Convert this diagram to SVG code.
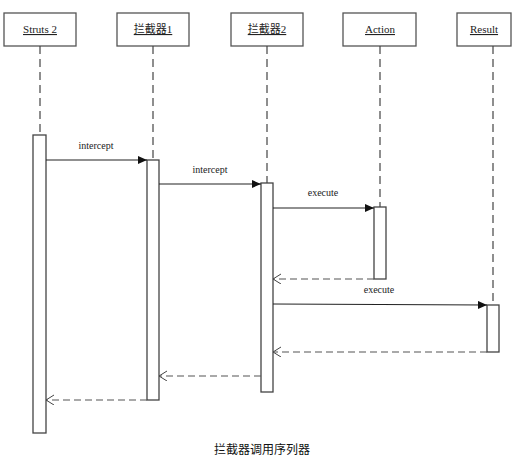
<svg xmlns="http://www.w3.org/2000/svg" width="513" height="461" viewBox="0 0 513 461">
<style>
.box{fill:#fff;stroke:#555;stroke-width:1.3}
.act{fill:#fff;stroke:#444;stroke-width:1.3}
.life{stroke:#444;stroke-width:1.2;stroke-dasharray:8 5;fill:none}
.lbl{font-family:"Liberation Serif","Noto Sans CJK SC",serif;font-size:11px;fill:#222;text-decoration:underline;text-anchor:middle}
.msg{stroke:#222;stroke-width:1.2;fill:none}
.ret{stroke:#555;stroke-width:1.2;stroke-dasharray:7 4;fill:none}
.mt{font-family:"Liberation Serif",serif;font-size:10px;fill:#222;text-anchor:middle}
.cap{font-family:"Noto Sans CJK SC",sans-serif;font-size:12px;fill:#111;text-anchor:middle}
</style>
<defs>
<marker id="fill" markerWidth="10" markerHeight="10" refX="9" refY="4" orient="auto" markerUnits="userSpaceOnUse"><path d="M0,0 L9,4 L0,8 Z" fill="#111"/></marker>
<marker id="open" markerWidth="12" markerHeight="12" refX="9" refY="5" orient="auto" markerUnits="userSpaceOnUse"><path d="M1,0 L9,5 L1,10" fill="none" stroke="#444" stroke-width="1"/></marker>
</defs>
<rect width="513" height="461" fill="#fff"/>
<g id="struts2">
<rect class="box" x="4" y="13" width="72" height="33"/>
<text class="lbl" x="40" y="33">Struts 2</text>
<line class="life" x1="40" y1="46" x2="40" y2="135"/>
<rect class="act" x="33" y="135" width="13" height="298"/>
</g>
<g id="interceptor1">
<rect class="box" x="117" y="13" width="72" height="33"/>
<text class="lbl" x="153" y="33">拦截器1</text>
<line class="life" x1="153" y1="46" x2="153" y2="160"/>
<rect class="act" x="147" y="160" width="12" height="240"/>
</g>
<g id="interceptor2">
<rect class="box" x="231" y="13" width="72" height="33"/>
<text class="lbl" x="267" y="33">拦截器2</text>
<line class="life" x1="267" y1="46" x2="267" y2="183"/>
<rect class="act" x="261" y="183" width="12" height="209"/>
</g>
<g id="action">
<rect class="box" x="343" y="13" width="73" height="33"/>
<text class="lbl" x="380" y="33">Action</text>
<line class="life" x1="380" y1="46" x2="380" y2="207"/>
<rect class="act" x="374" y="207" width="12" height="72"/>
</g>
<g id="result">
<rect class="box" x="457" y="13" width="54" height="33"/>
<text class="lbl" x="484" y="33">Result</text>
<line class="life" x1="493" y1="46" x2="493" y2="305"/>
<rect class="act" x="487" y="305" width="12" height="47"/>
</g>
<g id="connectors">
<line class="msg" x1="46" y1="160" x2="147" y2="160" marker-end="url(#fill)"/>
<text class="mt" x="96" y="149">intercept</text>
<line class="msg" x1="159" y1="184" x2="261" y2="184" marker-end="url(#fill)"/>
<text class="mt" x="210" y="173">intercept</text>
<line class="msg" x1="273" y1="208" x2="374" y2="208" marker-end="url(#fill)"/>
<text class="mt" x="323" y="196">execute</text>
<line class="ret" x1="374" y1="279" x2="273" y2="279" marker-end="url(#open)"/>
<line class="msg" x1="273" y1="304" x2="487" y2="305" marker-end="url(#fill)"/>
<text class="mt" x="379" y="293">execute</text>
<line class="ret" x1="487" y1="352" x2="273" y2="352" marker-end="url(#open)"/>
<line class="ret" x1="261" y1="376" x2="159" y2="376" marker-end="url(#open)"/>
<line class="ret" x1="147" y1="400" x2="46" y2="400" marker-end="url(#open)"/>
</g>
<text class="cap" x="262" y="454">拦截器调用序列器</text>
</svg>
